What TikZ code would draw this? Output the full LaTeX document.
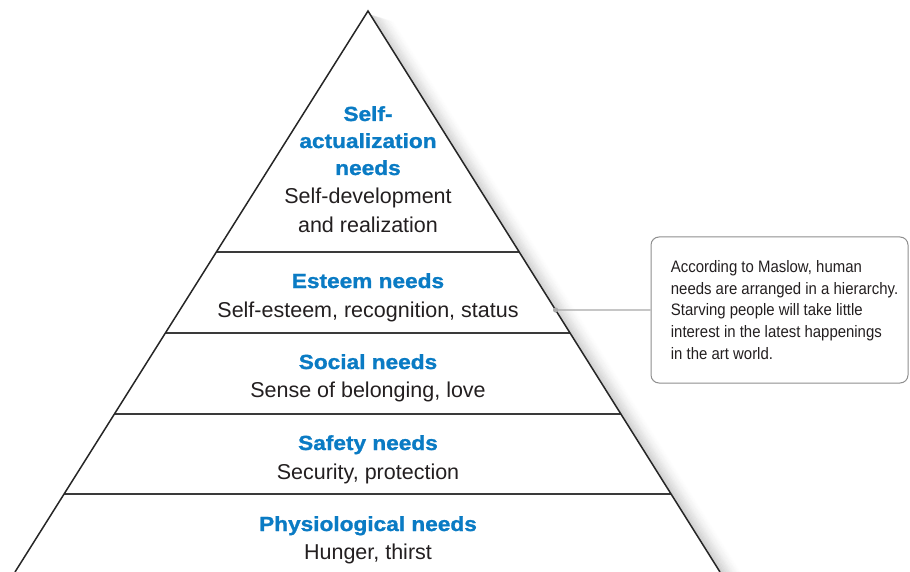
\documentclass[tikz,border=0pt]{standalone}
\usepackage{fontspec}
\setmainfont{Liberation Sans}
\newfontfamily\headfont{Liberation Sans}[FakeStretch=1.11,FakeBold=1.2]
\newfontfamily\notefont{Liberation Sans}[FakeStretch=0.9]
\usetikzlibrary{calc}
\definecolor{needblue}{HTML}{0A7BC4}
\definecolor{inktext}{HTML}{231F20}
\definecolor{rulegray}{HTML}{3A3A3A}
\definecolor{boxgray}{HTML}{8E8E8E}
\definecolor{leadgray}{HTML}{A8A8A8}
\tikzset{
  tierhead/.style={anchor=base, inner sep=0pt, align=center, text=needblue,
    font=\headfont\bfseries\fontsize{10.2}{13.5}\selectfont},
  tierbody/.style={anchor=base, inner sep=0pt, align=center, text=inktext,
    font=\fontsize{10.75}{14.5}\selectfont},
  tierrule/.style={draw=rulegray, line width=1pt},
  notebox/.style={draw=boxgray, line width=0.5pt, rounded corners=4pt,
    minimum width=128.5pt, minimum height=73pt, inner sep=0pt},
  notetext/.style={anchor=base west, inner sep=0pt, align=left, text=inktext,
    font=\notefont\fontsize{8.3}{10.9}\selectfont},
}
\begin{document}
\begin{tikzpicture}[x=0.5pt,y=-0.5pt]
\useasboundingbox (0,0) rectangle (910,572);
\clip (0,0) rectangle (910,572);
\coordinate (apex) at (368,11);
\coordinate (bl) at (15,572);
\coordinate (br) at (720,572);
% soft shadow along the right side
\foreach \i in {1,...,26} {
  \pgfmathsetmacro{\op}{0.11*(1-\i/27)^1.5}
  \draw[black, opacity=\op, line width=0.6pt]
    ($(apex)+(\i,0.3*\i+3)$) -- ($(br)+(\i,0.3*\i)$);
}
\fill[white] (bl) -- (apex) -- (br) -- cycle;
% tier rules
\foreach \yy in {252,333,414,494}
  \draw[tierrule] ($(apex)!{(\yy-11)/561}!(bl)$) -- ($(apex)!{(\yy-11)/561}!(br)$);
\draw[black!85, line width=0.75pt, line join=miter] (bl) -- (apex) -- (br);
% tiers (base = last line)
\node[tierhead] (selfhead) at (368,175) {Self-\\actualization\\needs};
\node[tierbody] (selfbody) at (368,233) {Self-development\\and realization};
\node[tierhead] (esteemhead) at (368,288) {Esteem needs};
\node[tierbody] (esteembody) at (368,317) {Self-esteem, recognition, status};
\node[tierhead] (socialhead) at (368,369) {Social needs};
\node[tierbody] (socialbody) at (368,397) {Sense of belonging, love};
\node[tierhead] (safetyhead) at (368,450) {Safety needs};
\node[tierbody] (safetybody) at (368,479) {Security, protection};
\node[tierhead] (physhead) at (368,531) {Physiological needs};
\node[tierbody] (physbody) at (368,559) {Hunger, thirst};
% callout
\node[notebox] (note) at (779.5,310) {};
\node[notetext] (notetxt) at ($(note.north west)+(20,123)$)
  {According to Maslow, human\\needs are arranged in a hierarchy.\\Starving people will take little\\interest in the latest happenings\\in the art world.};
\coordinate (lead) at ($(apex)!{299/561}!(br)$);
\draw[leadgray, line width=0.6pt] (lead) -- (note.west);
\fill[leadgray] (lead) circle[radius=1.3pt];
\end{tikzpicture}
\end{document}
